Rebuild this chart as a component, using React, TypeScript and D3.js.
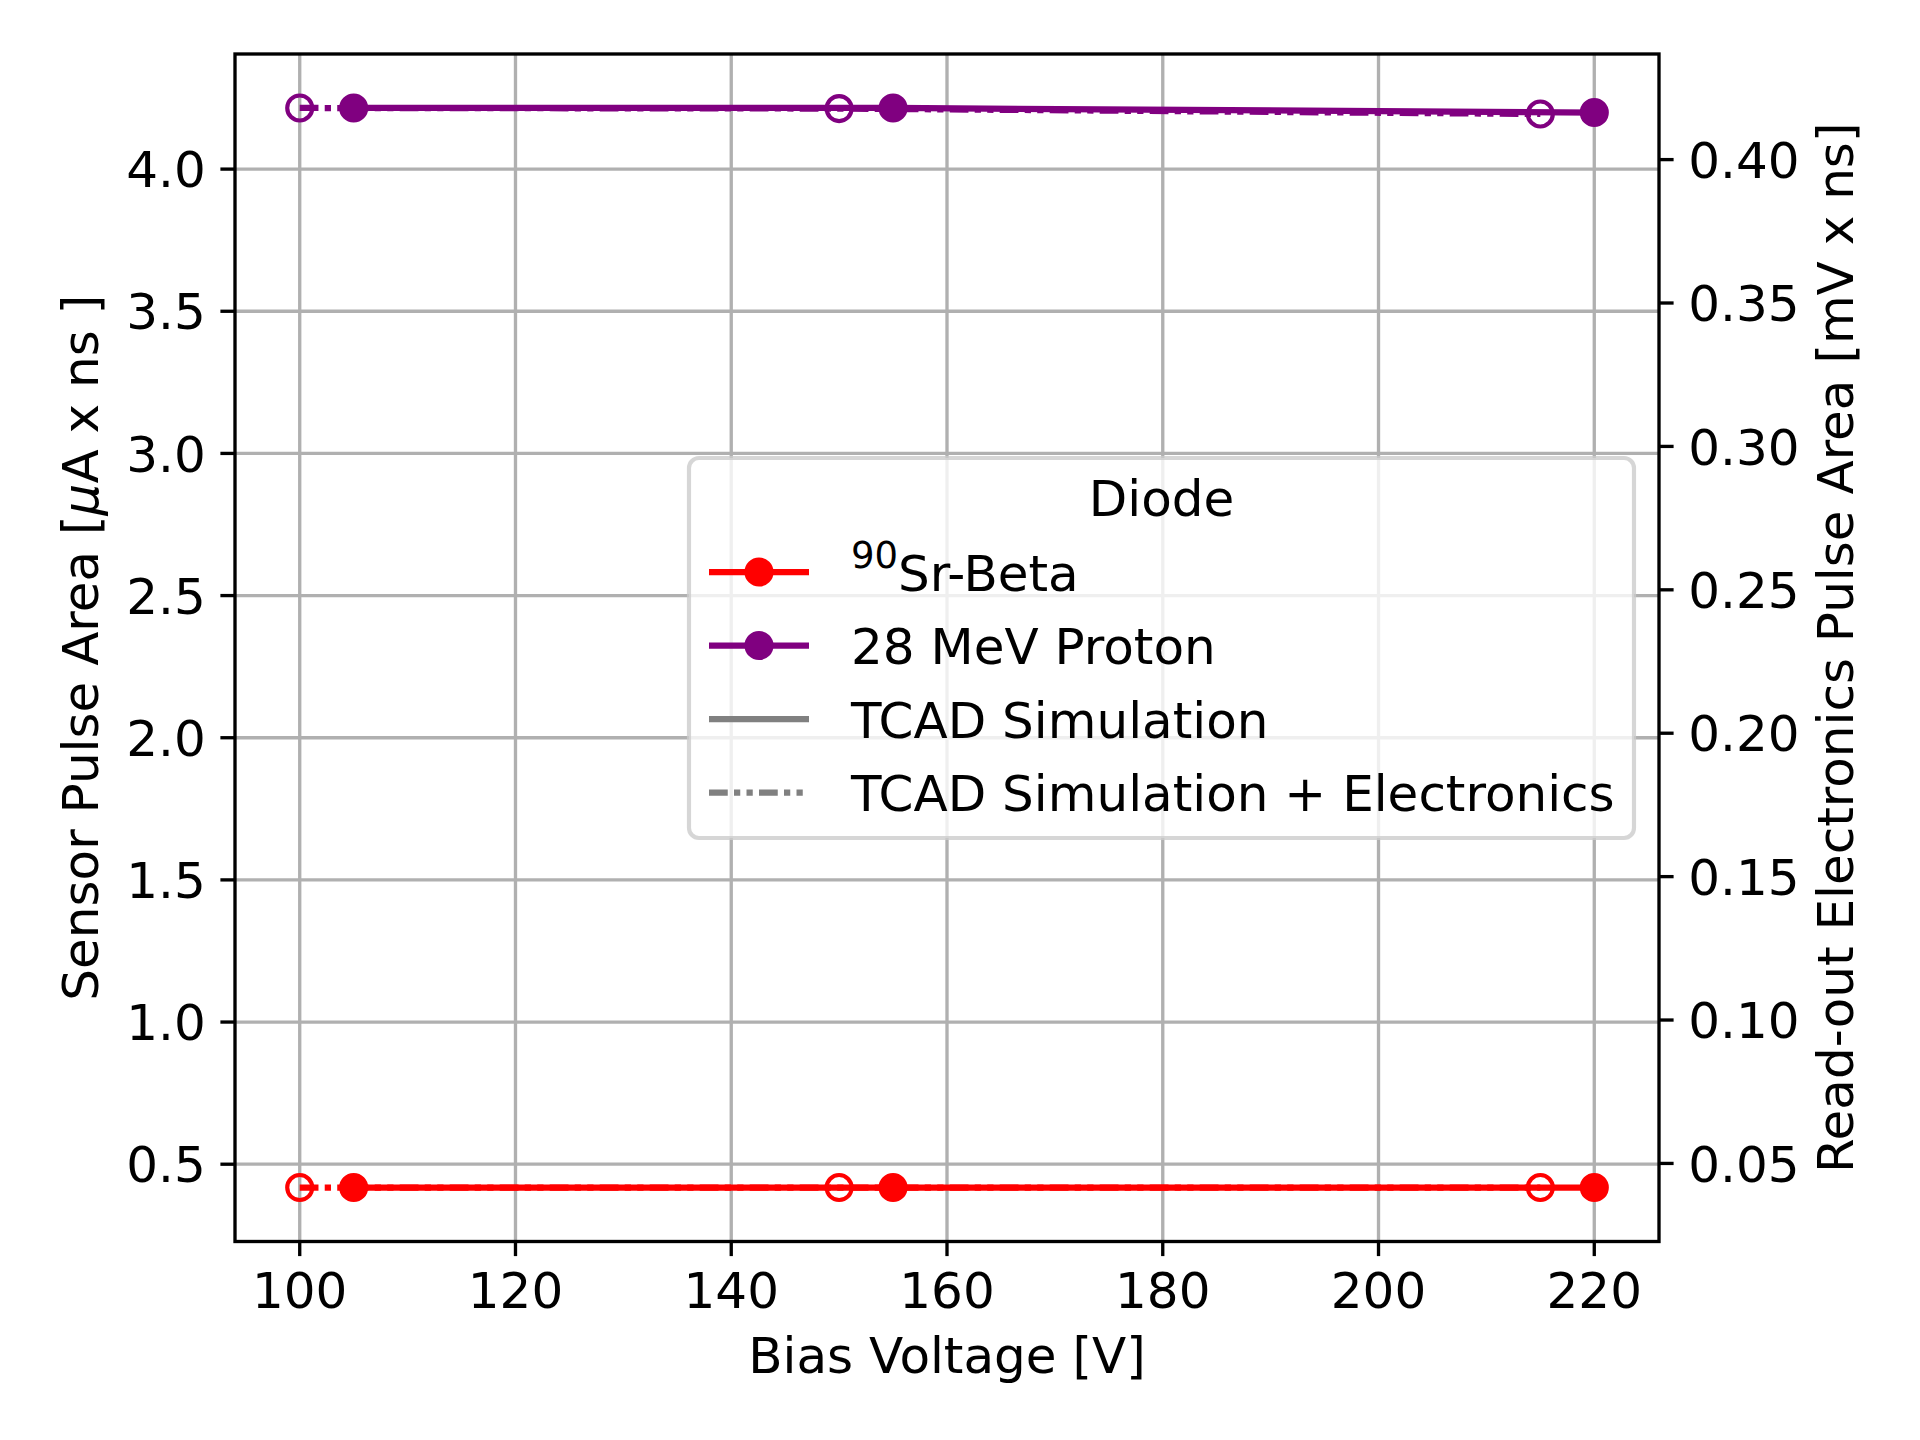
import { useEffect } from "react"
import * as d3 from "d3"

// values
const biasSensor = [105, 155, 220]
const sensorBeta = [0.418, 0.418, 0.418]
const sensorProton = [4.215, 4.215, 4.199]

const biasReadout = [100, 150, 215]
const readoutBeta = [0.0416, 0.0416, 0.0416]
const readoutProton = [0.418, 0.4178, 0.4159]

const xTicks = [100, 120, 140, 160, 180, 200, 220]
const leftTicks = [0.5, 1.0, 1.5, 2.0, 2.5, 3.0, 3.5, 4.0]
const rightTicks = [0.05, 0.1, 0.15, 0.2, 0.25, 0.3, 0.35, 0.4]

const RED = "#ff0000"
const PURPLE = "#800080"
const GRAY = "#808080"
const FONT = "DejaVu Sans"

const W = 1920
const H = 1440
const left = 235
const right = 1659
const top = 54
const bottom = 1241.5

// matplotlib-ish linewidths at 300 dpi
const LW = 6.25
const SPINE = 3.33
const TICK = 14.6
const PAD = 14.6
const MS = 12.5
const DASH = "18.75,6.25,6.25,6.25,6.25,6.25"

function padded(lo: number, hi: number): [number, number] {
  const r = hi - lo
  return [lo - 0.05 * r, hi + 0.05 * r]
}

export default function App() {
  useEffect(() => {
    document.body.style.margin = "0"
  }, [])

  const allX = [...biasSensor, ...biasReadout]
  const x = d3
    .scaleLinear()
    .domain(padded(d3.min(allX)!, d3.max(allX)!))
    .range([left, right])

  const allLeft = [...sensorBeta, ...sensorProton]
  const yL = d3
    .scaleLinear()
    .domain(padded(d3.min(allLeft)!, d3.max(allLeft)!))
    .range([bottom, top])

  const allRight = [...readoutBeta, ...readoutProton]
  const yR = d3
    .scaleLinear()
    .domain(padded(d3.min(allRight)!, d3.max(allRight)!))
    .range([bottom, top])

  const lineL = d3
    .line<number>()
    .x((_, i) => x(biasSensor[i]))
    .y((d) => yL(d))
  const lineR = d3
    .line<number>()
    .x((_, i) => x(biasReadout[i]))
    .y((d) => yR(d))

  const sensorSeries = [
    { values: sensorBeta, color: RED },
    { values: sensorProton, color: PURPLE },
  ]
  const readoutSeries = [
    { values: readoutBeta, color: RED },
    { values: readoutProton, color: PURPLE },
  ]

  // legend box
  const lg = { x0: 689, x1: 1634, y0: 458, y1: 838 }
  const rows = [572, 645.5, 719, 792.5]
  const hx0 = 709
  const hx1 = 809
  const tx = 851

  const midY = (top + bottom) / 2

  return (
    <svg width={W} height={H} viewBox={`0 0 ${W} ${H}`} style={{ display: "block", background: "#fff" }} fontFamily={FONT}>
      <rect x={0} y={0} width={W} height={H} fill="#fff" />

      {/* grid */}
      <g stroke="#b0b0b0" strokeWidth={SPINE}>
        {xTicks.map((t) => (
          <line key={`gx${t}`} x1={x(t)} x2={x(t)} y1={top} y2={bottom} />
        ))}
        {leftTicks.map((t) => (
          <line key={`gy${t}`} x1={left} x2={right} y1={yL(t)} y2={yL(t)} />
        ))}
      </g>

      {/* sensor (left axis): solid + filled markers */}
      {sensorSeries.map((s, k) => (
        <g key={`s${k}`}>
          <path d={lineL(s.values)!} fill="none" stroke={s.color} strokeWidth={LW} strokeLinejoin="round" strokeLinecap="square" />
          {s.values.map((v, i) => (
            <circle key={i} cx={x(biasSensor[i])} cy={yL(v)} r={MS} fill={s.color} stroke={s.color} strokeWidth={4.17} />
          ))}
        </g>
      ))}

      {/* read-out (right axis): dash-dot-dot + open markers */}
      {readoutSeries.map((s, k) => (
        <g key={`r${k}`}>
          <path d={lineR(s.values)!} fill="none" stroke={s.color} strokeWidth={LW} strokeDasharray={DASH} strokeLinejoin="round" />
          {s.values.map((v, i) => (
            <circle key={i} cx={x(biasReadout[i])} cy={yR(v)} r={MS} fill="none" stroke={s.color} strokeWidth={4.17} />
          ))}
        </g>
      ))}

      {/* spines */}
      <rect x={left} y={top} width={right - left} height={bottom - top} fill="none" stroke="#000" strokeWidth={SPINE} strokeLinejoin="miter" />

      {/* x axis */}
      <g fontSize={50} textAnchor="middle" fill="#000">
        {xTicks.map((t) => (
          <g key={`xt${t}`}>
            <line x1={x(t)} x2={x(t)} y1={bottom} y2={bottom + TICK} stroke="#000" strokeWidth={SPINE} />
            <text x={x(t)} y={1308}>{t}</text>
          </g>
        ))}
        <text x={(left + right) / 2} y={1373}>Bias Voltage [V]</text>
      </g>

      {/* left axis */}
      <g fontSize={50} textAnchor="end" fill="#000">
        {leftTicks.map((t) => (
          <g key={`yl${t}`}>
            <line x1={left - TICK} x2={left} y1={yL(t)} y2={yL(t)} stroke="#000" strokeWidth={SPINE} />
            <text x={left - TICK - PAD} y={yL(t) + 18.2}>{t.toFixed(1)}</text>
          </g>
        ))}
      </g>
      <text x={98} y={midY} fontSize={50} textAnchor="middle" transform={`rotate(-90 98 ${midY})`} fill="#000">
        Sensor Pulse Area [<tspan fontStyle="italic">μ</tspan>A x ns ]
      </text>

      {/* right axis */}
      <g fontSize={50} textAnchor="start" fill="#000">
        {rightTicks.map((t) => (
          <g key={`yr${t}`}>
            <line x1={right} x2={right + TICK} y1={yR(t)} y2={yR(t)} stroke="#000" strokeWidth={SPINE} />
            <text x={right + TICK + PAD} y={yR(t) + 18.2}>{t.toFixed(2)}</text>
          </g>
        ))}
      </g>
      <text x={1853} y={midY} fontSize={50} textAnchor="middle" transform={`rotate(-90 1853 ${midY})`} fill="#000">
        Read-out Electronics Pulse Area [mV x ns]
      </text>

      {/* legend */}
      <rect x={lg.x0} y={lg.y0} width={lg.x1 - lg.x0} height={lg.y1 - lg.y0} rx={10} fill="#fff" fillOpacity={0.8} stroke="#cccccc" strokeOpacity={0.8} strokeWidth={4.17} />
      <text x={(lg.x0 + lg.x1) / 2} y={516} fontSize={50} textAnchor="middle">Diode</text>

      <line x1={hx0} x2={hx1} y1={rows[0]} y2={rows[0]} stroke={RED} strokeWidth={LW} />
      <circle cx={(hx0 + hx1) / 2} cy={rows[0]} r={MS} fill={RED} stroke={RED} strokeWidth={4.17} />
      <text x={tx} y={rows[0] + 18.5} fontSize={50}>
        <tspan fontSize={37} dy={-23}>90</tspan>
        <tspan dy={23}>Sr-Beta</tspan>
      </text>

      <line x1={hx0} x2={hx1} y1={rows[1]} y2={rows[1]} stroke={PURPLE} strokeWidth={LW} />
      <circle cx={(hx0 + hx1) / 2} cy={rows[1]} r={MS} fill={PURPLE} stroke={PURPLE} strokeWidth={4.17} />
      <text x={tx} y={rows[1] + 18.5} fontSize={50}>28 MeV Proton</text>

      <line x1={hx0} x2={hx1} y1={rows[2]} y2={rows[2]} stroke={GRAY} strokeWidth={LW} />
      <text x={tx} y={rows[2] + 18.5} fontSize={50}>TCAD Simulation</text>

      <line x1={hx0} x2={hx1} y1={rows[3]} y2={rows[3]} stroke={GRAY} strokeWidth={LW} strokeDasharray={DASH} />
      <text x={tx} y={rows[3] + 18.5} fontSize={50}>TCAD Simulation + Electronics</text>
    </svg>
  )
}
